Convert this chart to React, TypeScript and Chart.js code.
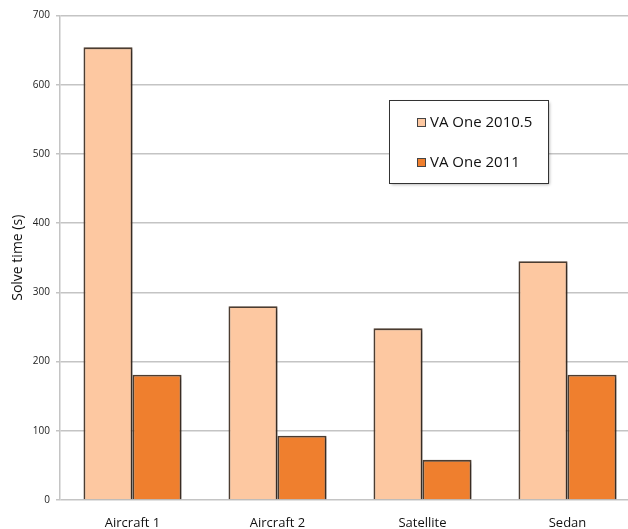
import React, { useEffect, useRef } from "react";
import { Chart, registerables } from "chart.js";

Chart.register(...registerables);

const categories = ["Aircraft 1", "Aircraft 2", "Satellite", "Sedan"];
const seriesNames = ["VA One 2010.5", "VA One 2011"];
const va20105 = [654, 280, 248, 345];
const va2011 = [181, 93, 58, 181];
const yTicks = [0, 100, 200, 300, 400, 500, 600, 700];

const LIGHT = "#FDC8A1";
const DARK = "#EF7F2E";
const EDGE = "#4e3e32";
const FONT = "'Open Sans', 'DejaVu Sans', sans-serif";

const legendPlugin = {
  id: "boxLegend",
  afterDraw(chart: any) {
    const ctx = chart.ctx;
    const x0 = 389.5, y0 = 100.5, w = 159, h = 83;
    ctx.save();
    ctx.shadowColor = "rgba(0,0,0,0.35)";
    ctx.shadowBlur = 3;
    ctx.shadowOffsetX = 1;
    ctx.shadowOffsetY = 1;
    ctx.fillStyle = "#ffffff";
    ctx.fillRect(x0, y0, w, h);
    ctx.restore();
    ctx.save();
    ctx.strokeStyle = "#333333";
    ctx.lineWidth = 1;
    ctx.strokeRect(x0, y0, w, h);
    const rows = [123, 163];
    chart.data.datasets.forEach((ds: any, i: number) => {
      const y = rows[i];
      ctx.fillStyle = ds.backgroundColor;
      ctx.fillRect(417, y - 5, 9, 9);
      ctx.strokeStyle = "#444";
      ctx.lineWidth = 1;
      ctx.strokeRect(417.5, y - 4.5, 8, 8);
      ctx.fillStyle = "#111";
      ctx.font = `15px ${FONT}`;
      ctx.textBaseline = "middle";
      ctx.textAlign = "left";
      ctx.fillText(ds.label, 430, y);
    });
    ctx.restore();
  },
};

const shadowPlugin = {
  id: "barShadow",
  beforeDatasetDraw(chart: any) {
    const ctx = chart.ctx;
    ctx.save();
    ctx.shadowColor = "rgba(0,0,0,0.35)";
    ctx.shadowBlur = 3;
    ctx.shadowOffsetX = 2;
    ctx.shadowOffsetY = 1;
  },
  afterDatasetDraw(chart: any) {
    chart.ctx.restore();
  },
};

export default function App() {
  const ref = useRef<HTMLCanvasElement | null>(null);
  useEffect(() => {
    document.body.style.overflow = "hidden";
    const chart = new Chart(ref.current as HTMLCanvasElement, {
      type: "bar",
      data: {
        labels: categories,
        datasets: [
          {
            label: seriesNames[0],
            data: va20105,
            backgroundColor: LIGHT,
            borderColor: EDGE,
            borderWidth: 1.8,
          },
          {
            label: seriesNames[1],
            data: va2011,
            backgroundColor: DARK,
            borderColor: EDGE,
            borderWidth: 1.8,
          },
        ],
      },
      options: {
        animation: false,
        responsive: false,
        devicePixelRatio: 1,
        layout: { padding: { top: 15.5, right: 0, bottom: 0, left: 0 } },
        datasets: { bar: { barPercentage: 1, categoryPercentage: 0.676 } },
        plugins: {
          legend: { display: false },
          tooltip: { enabled: false },
        },
        scales: {
          x: {
            grid: { display: false },
            border: { display: false },
            ticks: {
              color: "#111",
              font: { family: FONT, size: 13 },
              padding: 7,
            },
            afterFit(scale: any) {
              scale.height = 29;
            },
          },
          y: {
            min: 0,
            max: 700,
            afterBuildTicks(scale: any) {
              scale.ticks = yTicks.map((v) => ({ value: v }));
            },
            grid: {
              color: "#c4c4c4",
              lineWidth: 1.5,
              tickLength: 4,
            },
            border: { display: true, color: "#c4c4c4", width: 1.5 },
            ticks: {
              color: "#222",
              font: { family: FONT, size: 10 },
              padding: 6,
            },
            title: {
              display: true,
              text: "Solve time (s)",
              color: "#111",
              font: { family: FONT, size: 14 },
              padding: { top: 10, bottom: 4 },
            },
            afterFit(scale: any) {
              scale.width = 60;
            },
          },
        },
      },
      plugins: [shadowPlugin, legendPlugin],
    });
    return () => chart.destroy();
  }, []);
  return (
    <div style={{ position: "absolute", left: 0, top: 0, width: 628, height: 529, overflow: "hidden", background: "#fff" }}>
      <canvas ref={ref} width={640} height={529} style={{ display: "block" }} />
    </div>
  );
}
